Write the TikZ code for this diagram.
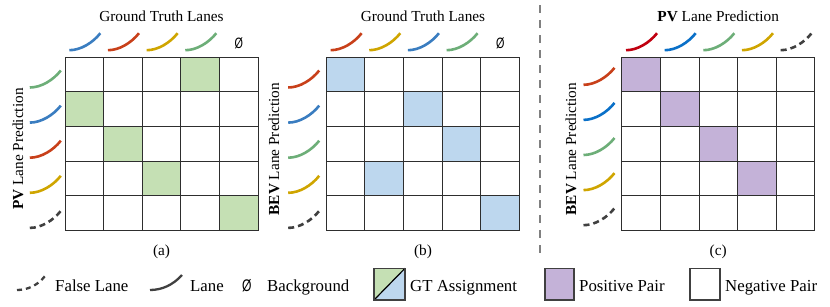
\documentclass[tikz,border=0pt]{standalone}
\usepackage{fontspec}
\usepackage{graphicx}
\setmainfont{Liberation Serif}
\newfontfamily\symfont{Liberation Sans}
\newcommand\emptyglyph{\scalebox{0.72}[1]{\symfont Ø}}
\definecolor{lblue}{HTML}{3A7DC0}
\definecolor{lred}{HTML}{C8401A}
\definecolor{lyellow}{HTML}{CFA500}
\definecolor{lgreen}{HTML}{6DAE78}
\definecolor{lcrimson}{HTML}{C00010}
\definecolor{lbluetwo}{HTML}{0A70C8}
\definecolor{ldash}{HTML}{404040}
\definecolor{cgreen}{HTML}{C5E0B4}
\definecolor{cblue}{HTML}{BDD7EE}
\definecolor{cpurple}{HTML}{C4B2D8}
\definecolor{sepgray}{HTML}{808080}
\tikzset{
  lanearc/.pic={\draw[pic actions] (-15.5,8.5) .. controls (-4,8.5) and (8,1) .. (15.5,-8.5);},
  lanesolid/.style={line width=2.6pt},
  lanedash/.style={line width=2.6pt, draw=ldash, dash pattern=on 6pt off 4pt},
  gridline/.style={draw=black!82, line width=0.95pt},
  titletext/.style={font=\fontsize{15.3}{18}\selectfont, inner sep=0pt},
  legtext/.style={font=\fontsize{16.8}{20}\selectfont, anchor=base west, inner sep=0pt},
  legbox/.style={draw=ldash, line width=1.5pt},
  emptyset/.style={font=\fontsize{15}{18}\selectfont, inner sep=0pt},
}
\newcommand\cellfill[4]{\fill[#4] ({#1+(#3-1)*38.65},{57+(#2-1)*34.7}) rectangle +(38.65,34.7);}
\newcommand\gridat[1]{%
  \foreach \i in {0,...,5}{%
    \draw[gridline] ({#1+\i*38.65},57) -- ({#1+\i*38.65},230.5);
    \draw[gridline] (#1,{57+\i*34.7}) -- ({#1+193.25},{57+\i*34.7});
  }}
\newcommand\toparc[3]{\pic[#3] at ({#1+(#2-0.5)*38.65+0.5},41.7) {lanearc};}
\newcommand\leftarc[4]{\pic[#4] at (#1,{#2+(#3-1)*35.1}) {lanearc};}
\begin{document}
\begin{tikzpicture}[x=1pt,y=-1pt]
\useasboundingbox (0,0) rectangle (830,306);

% ---------- panel (a)
\cellfill{65}{1}{4}{cgreen}
\cellfill{65}{2}{1}{cgreen}
\cellfill{65}{3}{2}{cgreen}
\cellfill{65}{4}{3}{cgreen}
\cellfill{65}{5}{5}{cgreen}
\gridat{65}
\toparc{65}{1}{draw=lblue,lanesolid}
\toparc{65}{2}{draw=lred,lanesolid}
\toparc{65}{3}{draw=lyellow,lanesolid}
\toparc{65}{4}{draw=lgreen,lanesolid}
\node[emptyset] (ea) at ({65+4.5*38.65},43) {\emptyglyph};
\leftarc{45.3}{79}{1}{draw=lgreen,lanesolid}
\leftarc{45.3}{79}{2}{draw=lblue,lanesolid}
\leftarc{45.3}{79}{3}{draw=lred,lanesolid}
\leftarc{45.3}{79}{4}{draw=lyellow,lanesolid}
\leftarc{45.3}{79}{5}{lanedash}
\node[titletext, anchor=base] (ta) at (161.5,21.5) {Ground Truth Lanes};
\node[titletext, rotate=90] (va) at (18,149) {\textbf{PV} Lane Prediction};
\node[titletext] (ca) at (161.5,251.5) {(a)};

% ---------- panel (b)
\cellfill{326.3}{1}{1}{cblue}
\cellfill{326.3}{2}{3}{cblue}
\cellfill{326.3}{3}{4}{cblue}
\cellfill{326.3}{4}{2}{cblue}
\cellfill{326.3}{5}{5}{cblue}
\gridat{326.3}
\toparc{326.3}{1}{draw=lred,lanesolid}
\toparc{326.3}{2}{draw=lyellow,lanesolid}
\toparc{326.3}{3}{draw=lblue,lanesolid}
\toparc{326.3}{4}{draw=lgreen,lanesolid}
\node[emptyset] (eb) at ({326.3+4.5*38.65},43) {\emptyglyph};
\leftarc{303.7}{79}{1}{draw=lred,lanesolid}
\leftarc{303.7}{79}{2}{draw=lblue,lanesolid}
\leftarc{303.7}{79}{3}{draw=lgreen,lanesolid}
\leftarc{303.7}{79}{4}{draw=lyellow,lanesolid}
\leftarc{303.7}{79}{5}{lanedash}
\node[titletext, anchor=base] (tb) at (423,21.5) {Ground Truth Lanes};
\node[titletext, rotate=90] (vb) at (274,149) {\textbf{BEV} Lane Prediction};
\node[titletext] (cb) at (423,251.5) {(b)};

% ---------- separator
\draw[sepgray, line width=2pt, dash pattern=on 8pt off 7pt] (540,5) -- (540,253);

% ---------- panel (c)
\cellfill{621.7}{1}{1}{cpurple}
\cellfill{621.7}{2}{2}{cpurple}
\cellfill{621.7}{3}{3}{cpurple}
\cellfill{621.7}{4}{4}{cpurple}
\gridat{621.7}
\toparc{621.7}{1}{draw=lcrimson,lanesolid}
\toparc{621.7}{2}{draw=lbluetwo,lanesolid}
\toparc{621.7}{3}{draw=lgreen,lanesolid}
\toparc{621.7}{4}{draw=lyellow,lanesolid}
\toparc{621.7}{5}{lanedash}
\leftarc{599}{76.3}{1}{draw=lred,lanesolid}
\leftarc{599}{76.3}{2}{draw=lbluetwo,lanesolid}
\leftarc{599}{76.3}{3}{draw=lgreen,lanesolid}
\leftarc{599}{76.3}{4}{draw=lyellow,lanesolid}
\leftarc{599}{76.3}{5}{lanedash}
\node[titletext, anchor=base] (tc) at (718.2,21.5) {\textbf{PV} Lane Prediction};
\node[titletext, rotate=90] (vc) at (571,149) {\textbf{BEV} Lane Prediction};
\node[titletext] (cc) at (718.2,251.5) {(c)};

% ---------- legend
\draw[lanedash, line width=2.3pt, dash pattern=on 5pt off 4pt] (17,290) .. controls (28,290) and (38,285) .. (45,276);
\node[legtext] (l1) at (55,291) {False Lane};
\draw[ldash, line width=2.3pt] (150,290) .. controls (162,290) and (173,285) .. (182,275);
\node[legtext] (l2) at (190,291) {Lane};
\node[legtext] (l3) at (242,291) {\emptyglyph};
\node[legtext] (l4) at (267,291) {Background};
\fill[cgreen] (374,268.3) -- (405,268.3) -- (374,300) -- cycle;
\fill[cblue] (405,268.3) -- (405,300) -- (374,300) -- cycle;
\draw[black, line width=1.2pt] (374,300) -- (405,268.3);
\draw[legbox] (374,268.3) rectangle (405,300);
\node[legtext] (l5) at (410,291) {GT Assignment};
\draw[legbox, fill=cpurple] (545,268.3) rectangle (574,300);
\node[legtext] (l6) at (579,291) {Positive Pair};
\draw[legbox, fill=white] (690,268.3) rectangle (720,300);
\node[legtext] (l7) at (725,291) {Negative Pair};
\end{tikzpicture}
\end{document}
